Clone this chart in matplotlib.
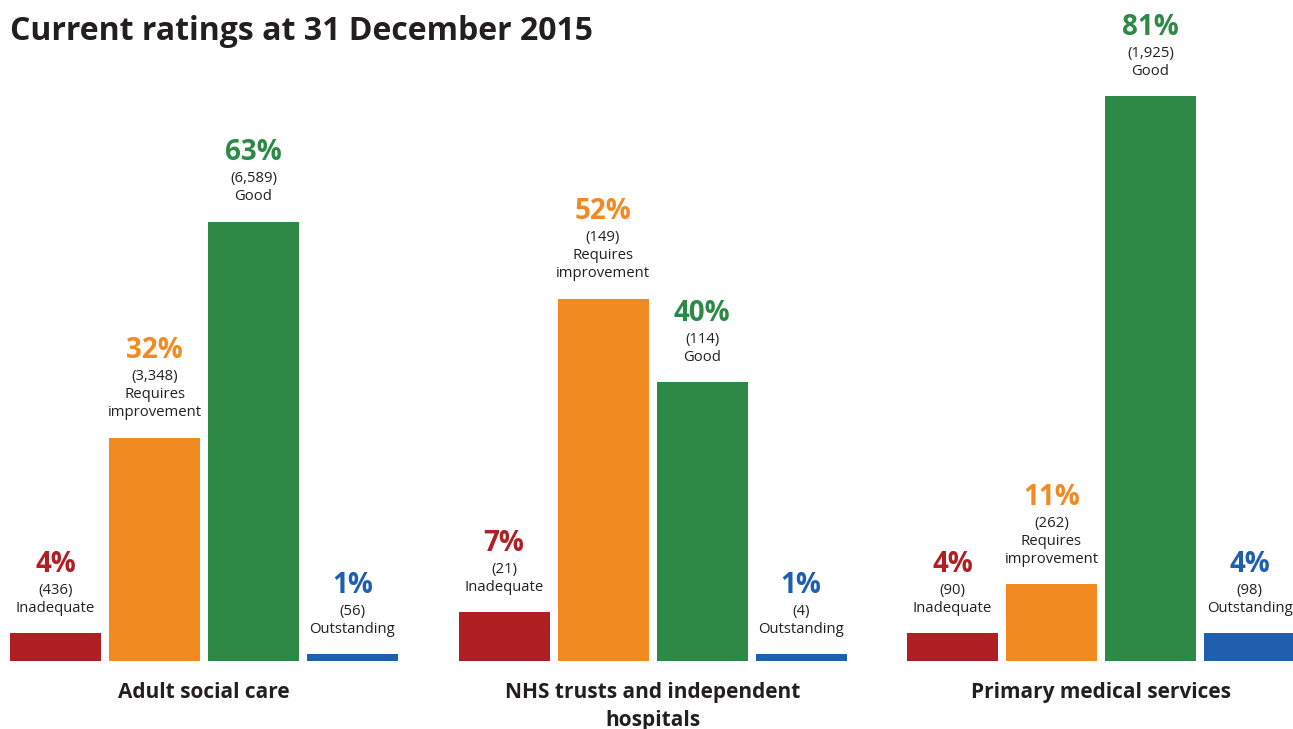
"""Current CQC ratings at 31 December 2015 - grouped bar chart."""
import matplotlib
matplotlib.use("Agg")
from matplotlib import pyplot as plt

sectors = ["Adult social care", "NHS trusts and independent\nhospitals", "Primary medical services"]
ratings = ["Inadequate", "Requires\nimprovement", "Good", "Outstanding"]
colours = ["#B01F24", "#F28A22", "#2D8945", "#1F5FAD"]

percent = [
    [4, 32, 63, 1],
    [7, 52, 40, 1],
    [4, 11, 81, 4],
]
counts = [
    ["436", "3,348", "6,589", "56"],
    ["21", "149", "114", "4"],
    ["90", "262", "1,925", "98"],
]

W, H, DPI = 1293, 729, 100
PX_PER_PCT = 6.97
TEXT = "#231F20"

plt.rcParams["font.family"] = ["Open Sans", "DejaVu Sans"]

fig = plt.figure(figsize=(W / DPI, H / DPI), dpi=DPI)
base = 68  # pixels from the bottom
ax = fig.add_axes([0, base / H, 1, (H - base) / H])
ax.set_xlim(0, W)
ax.set_ylim(0, (H - base) / PX_PER_PCT)
ax.axis("off")

group_step, bar_step, bar_w, left0 = 448.5, 99, 91, 10

for g, sector in enumerate(sectors):
    for i, rating in enumerate(ratings):
        x = left0 + g * group_step + i * bar_step
        val = percent[g][i]
        ax.bar(x, val, width=bar_w, align="edge", color=colours[i], linewidth=0)
        cx = x + bar_w / 2
        # stack text upward from the bar top (offsets in pixels -> points)
        lines = rating.split("\n")[::-1]
        off = 25
        for line in lines:
            ax.annotate(line, (cx, val), xytext=(0, off * 0.72), textcoords="offset points",
                        ha="center", va="center", fontsize=10.7, color=TEXT)
            off += 18
        ax.annotate(f"({counts[g][i]})", (cx, val), xytext=(0, off * 0.72),
                    textcoords="offset points", ha="center", va="center",
                    fontsize=10.7, color=TEXT)
        off += 26
        ax.annotate(f"{val}%", (cx, val), xytext=(0, off * 0.72),
                    textcoords="offset points", ha="center", va="center",
                    fontsize=20, fontweight="bold", color=colours[i])
    gx = left0 + g * group_step + (3 * bar_step + bar_w) / 2
    fig.text(gx / W, 1 - 682 / H, sector, ha="center", va="top", fontsize=15,
             fontweight="bold", color=TEXT, linespacing=1.42)

fig.text(10 / W, 1 - 31 / H, "Current ratings at 31 December 2015", ha="left",
         va="center", fontsize=23, fontweight="bold", color=TEXT)

fig.savefig("out.png", dpi=DPI, facecolor="white")
plt.close(fig)
